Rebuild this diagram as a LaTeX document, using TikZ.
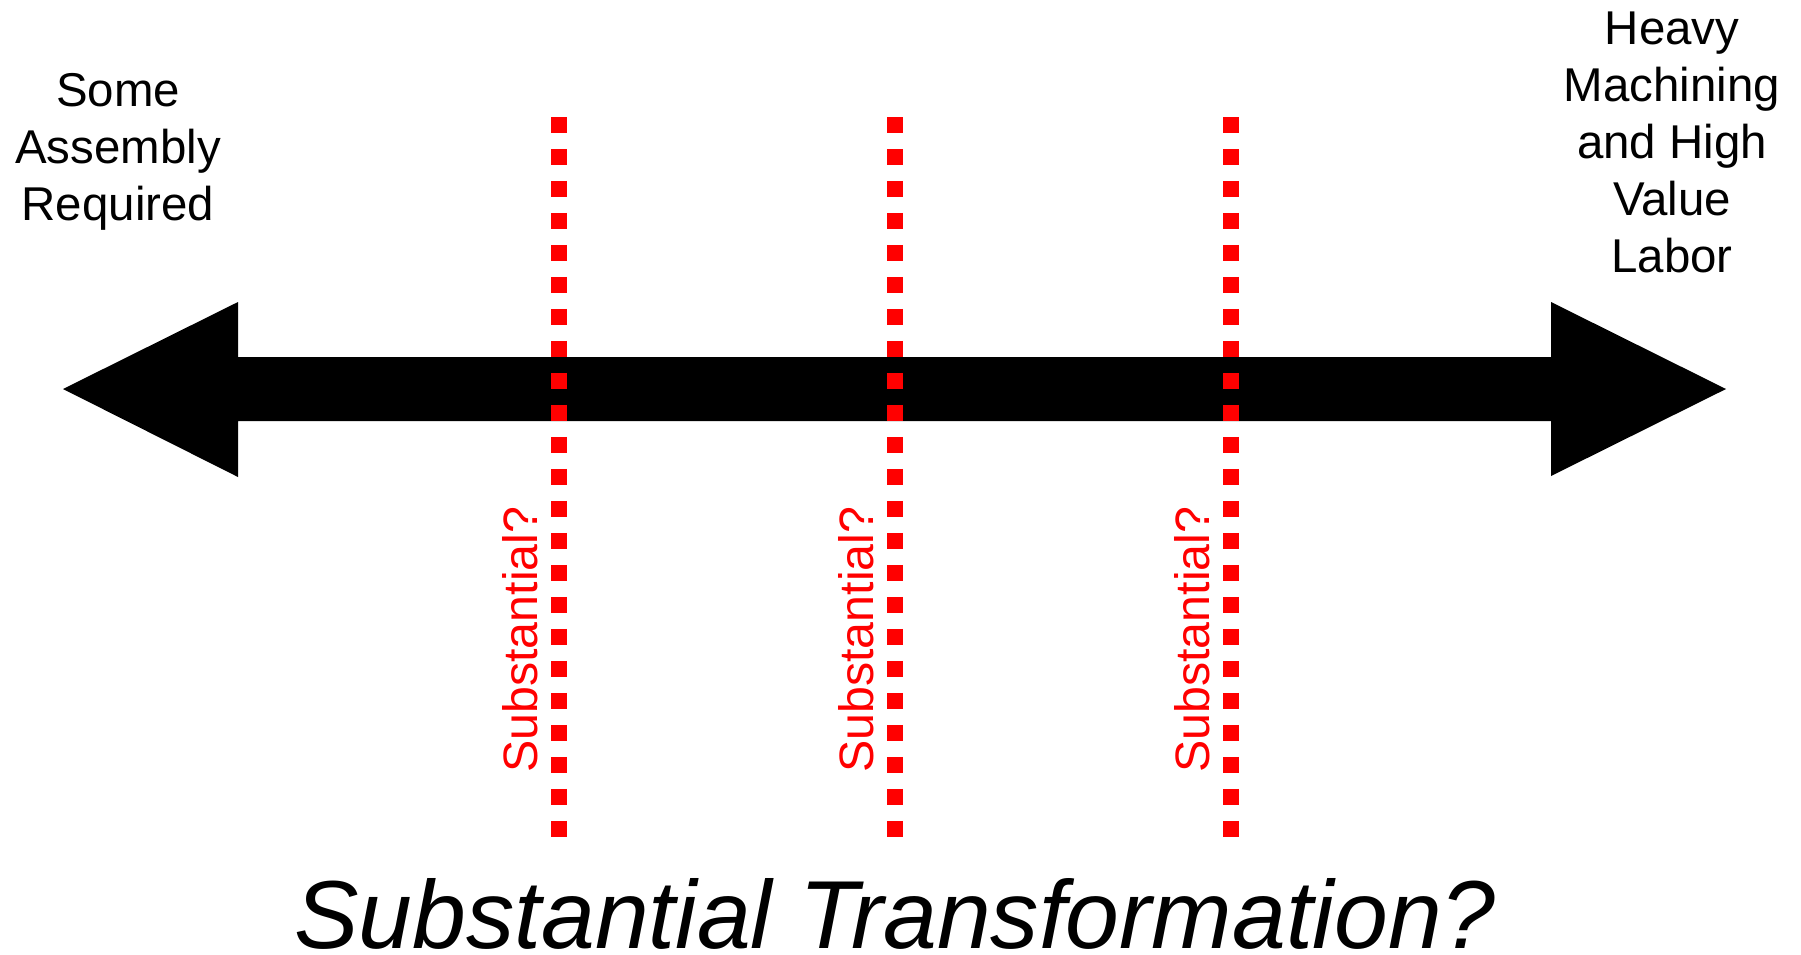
\documentclass[tikz,border=0pt]{standalone}
\usepackage{fontspec}
\setmainfont{Liberation Sans}
\usetikzlibrary{calc}
\usetikzlibrary{positioning}

\begin{document}
\begin{tikzpicture}[x = 0.02cm, y = -0.02cm,
    endtext/.style = {align = center, inner sep = 0pt, anchor = north,
        font = \fontsize{27}{32.4}\selectfont},
    cutline/.style = {red, line width = 0.32cm, dash pattern = on 0.32cm off 0.32cm},
    cutlabel/.style = {red, rotate = 90, anchor = base west, inner sep = 0pt,
        font = \fontsize{27.5}{32.4}\selectfont}]

    \useasboundingbox (0,0) rectangle (1801,954);

    % the scale
    \coordinate (L) at (63,389);
    \coordinate (R) at (1726,389);
    \fill[black] (L) -- (238,302) -- (238,357) -- (1551,357) -- (1551,302)
        -- (R) -- (1551,476) -- (1551,421) -- (238,421) -- (238,477) -- cycle;

    \node (low) at (118,73) [endtext] {Some\\Assembly\\Required};
    \node (high) at (1672,12) [endtext] {Heavy\\Machining\\and High\\Value\\Labor};

    % the three cut lines
    \coordinate (A1) at (559,117);
    \coordinate (A2) at (559,837);
    \coordinate (B1) at (895,117);
    \coordinate (B2) at (895,837);
    \coordinate (C1) at (1231,117);
    \coordinate (C2) at (1231,837);

    \draw[cutline] (A1) -- (A2);
    \draw[cutline] (B1) -- (B2);
    \draw[cutline] (C1) -- (C2);

    \node (qa) at ($(A2)+(-22,-64)$) [cutlabel] {Substantial?};
    \node (qb) at ($(B2)+(-22,-64)$) [cutlabel] {Substantial?};
    \node (qc) at ($(C2)+(-22,-64)$) [cutlabel] {Substantial?};

    \node (title) at (895,948) [anchor = base, inner sep = 0pt,
        font = \fontsize{55}{60}\selectfont\itshape] {Substantial Transformation?};

\end{tikzpicture}
\end{document}
